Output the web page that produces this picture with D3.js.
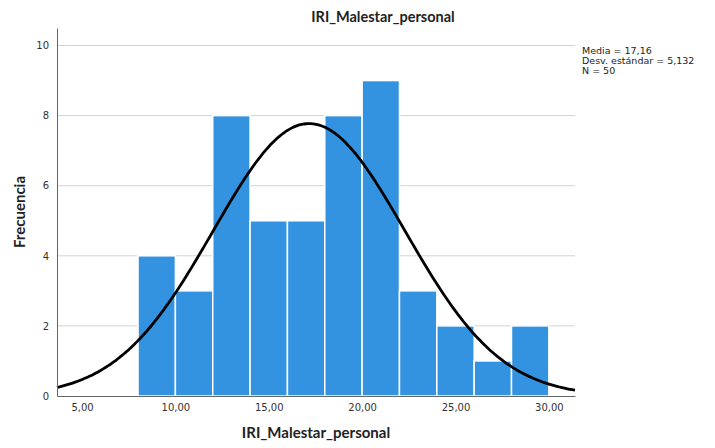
<!DOCTYPE html>
<html><head><meta charset="utf-8">
<script src="https://cdn.jsdelivr.net/npm/d3@7"></script>
<style>body{margin:0;background:#fff}</style>
</head><body>
<svg id="c" width="715" height="448"></svg>
<script>
const binStarts = [8, 10, 12, 14, 16, 18, 20, 22, 24, 26, 28];
const binWidth = 2;
const counts = [4, 3, 8, 5, 5, 8, 9, 3, 2, 1, 2];
const xTicks = [5, 10, 15, 20, 25, 30];
const yTicks = [0, 2, 4, 6, 8, 10];
const mean = 17.16, sd = 5.132, n = 50;
const statLines = ["Media = 17,16", "Desv. estándar = 5,132", "N = 50"];

const svg = d3.select("#c");
const font = "DejaVu Sans, sans-serif";
const boldFont = "Lato, sans-serif";
const x = d3.scaleLinear().domain([3.66, 31.4]).range([57, 575]);
const y = d3.scaleLinear().domain([0, 10.5]).range([396, 28]);

// gridlines
svg.append("g").selectAll("line").data(yTicks.filter(d => d > 0)).join("line")
  .attr("x1", 57).attr("x2", 575).attr("y1", d => y(d)).attr("y2", d => y(d))
  .attr("stroke", "#d3d3d3").attr("stroke-width", 1);

// bars
svg.append("g").selectAll("rect").data(counts).join("rect")
  .attr("x", (d, i) => x(binStarts[i]))
  .attr("width", (d, i) => x(binStarts[i] + binWidth) - x(binStarts[i]))
  .attr("y", d => y(d)).attr("height", d => y(0) - y(d))
  .attr("fill", "#3393e0").attr("stroke", "#ffffff").attr("stroke-width", 1.5);

// normal curve
const xs = d3.range(0, 201).map(i => 3.66 + (31.4 - 3.66) * i / 200);
const pdf = v => n * binWidth / (sd * Math.sqrt(2 * Math.PI)) * Math.exp(-0.5 * ((v - mean) / sd) ** 2);
svg.append("path").datum(xs)
  .attr("d", d3.line().x(d => x(d)).y(d => y(pdf(d))).curve(d3.curveBasis))
  .attr("fill", "none").attr("stroke", "#000").attr("stroke-width", 2.8);

// axes
const yAxis = svg.append("g").attr("transform", "translate(57,0)")
  .call(d3.axisLeft(y).tickValues(yTicks).tickSize(0).tickPadding(8).tickFormat(d3.format("d")));
const xAxis = svg.append("g").attr("transform", "translate(0,396)")
  .call(d3.axisBottom(x).tickValues(xTicks).tickSize(0).tickPadding(8).tickFormat(d => d.toFixed(2).replace(".", ",")));
[yAxis, xAxis].forEach(a => {
  a.select(".domain").attr("stroke", "#666").attr("stroke-width", 1);
  a.selectAll("text").attr("font-family", font).attr("font-size", 10).attr("fill", "#333");
});

// title
svg.append("text").attr("x", 383).attr("y", 22).attr("text-anchor", "middle")
  .attr("font-family", boldFont).attr("font-weight", "bold").attr("font-size", 14.5).attr("fill", "#222")
  .text("IRI_Malestar_personal");
// x label
svg.append("text").attr("x", 316).attr("y", 438).attr("text-anchor", "middle")
  .attr("font-family", boldFont).attr("font-weight", "bold").attr("font-size", 15).attr("fill", "#222")
  .text("IRI_Malestar_personal");
// y label
svg.append("text").attr("transform", "translate(25,212) rotate(-90)").attr("text-anchor", "middle")
  .attr("font-family", boldFont).attr("font-weight", "bold").attr("font-size", 15).attr("fill", "#222")
  .text("Frecuencia");
// stats
svg.append("g").selectAll("text").data(statLines).join("text")
  .attr("x", 582).attr("y", (d, i) => 54 + i * 10)
  .attr("font-family", font).attr("font-size", 9.5).attr("fill", "#222")
  .text(d => d);
</script>
</body></html>
